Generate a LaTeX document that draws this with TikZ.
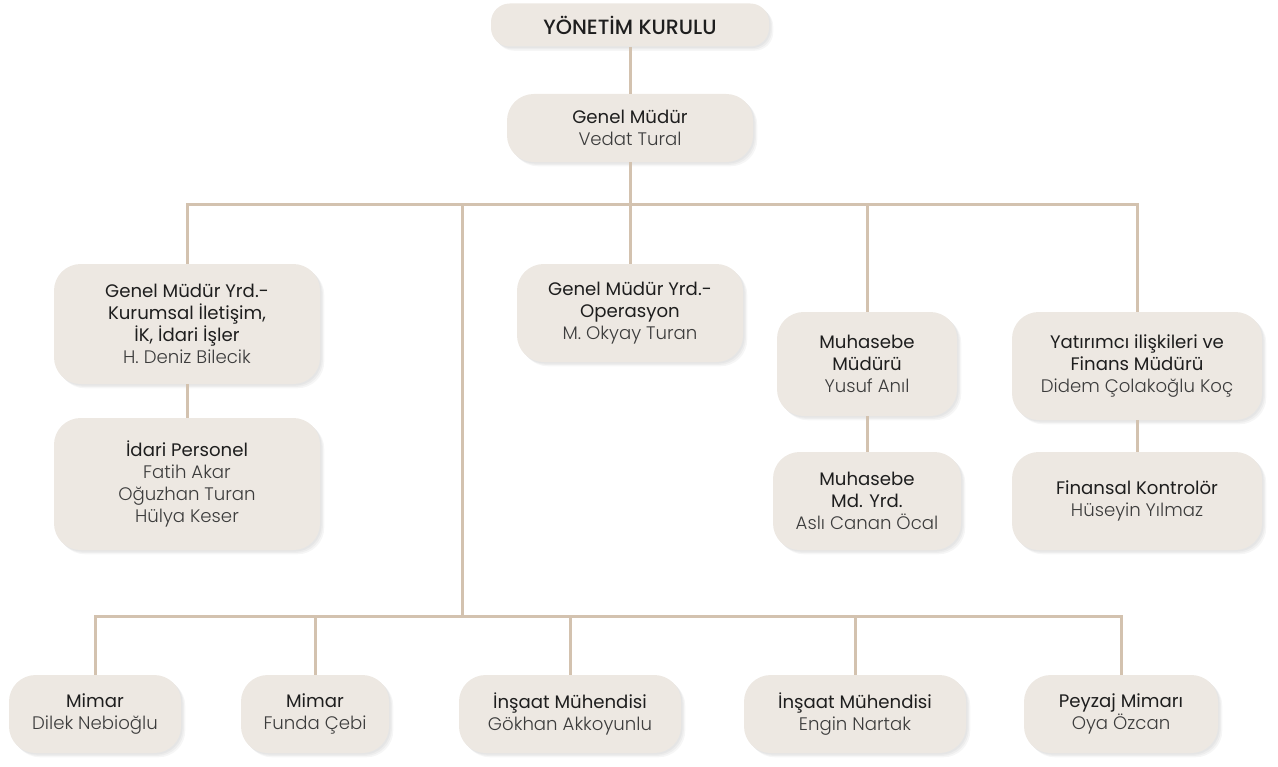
\documentclass[tikz,border=0pt]{standalone}
\usepackage{fontspec}
\setmainfont{Poppins}
\newfontfamily\lightf{Poppins Light}
\newfontfamily\medf{Poppins Medium}
\definecolor{boxfill}{HTML}{EDE8E2}
\definecolor{linec}{HTML}{D3C2AF}
\definecolor{titc}{HTML}{1E1E1E}
\definecolor{namec}{HTML}{3C3C3C}
\tikzset{
  card/.style={fill=boxfill, rounded corners=20pt, align=center, inner sep=0pt, text=titc,
    font=\fontsize{13.6}{16.6}\selectfont,
    preaction={fill=black, opacity=0.035, transform canvas={shift={(1.2pt,-1.2pt)}}},
    preaction={fill=black, opacity=0.035, transform canvas={shift={(2.2pt,-2.2pt)}}},
    preaction={fill=black, opacity=0.035, transform canvas={shift={(3.2pt,-3.2pt)}}}},
  sz/.style 2 args={minimum width=#1*0.75pt, minimum height=#2*0.75pt},
  link/.style={draw=linec, line width=2.25pt},
}
\newcommand{\nm}[1]{{\lightf\color{namec}#1}}
\begin{document}
\begin{tikzpicture}[x=0.75pt,y=-0.75pt]
\useasboundingbox (0,0) rectangle (1278,767);
% nodes
\node[card, sz={278}{43}, rounded corners=14pt, font=\fontsize{15.5}{18}\selectfont] (yk) at (630,25) {\medf YÖNETİM KURULU};
\node[card, sz={246}{68}] (gm) at (630,128) {Genel Müdür\\\nm{Vedat Tural}};
\node[card, sz={266}{120}] (k1) at (187,324) {Genel Müdür Yrd.-\\Kurumsal İletişim,\\İK, İdari İşler\\\nm{H. Deniz Bilecik}};
\node[card, sz={226}{98}] (op) at (630,313) {Genel Müdür Yrd.-\\Operasyon\\\nm{M. Okyay Turan}};
\node[card, sz={180}{104}] (mm) at (867,364) {Muhasebe\\Müdürü\\\nm{Yusuf Anıl}};
\node[card, sz={250}{108}] (yf) at (1137,366) {Yatırımcı ilişkileri ve\\Finans Müdürü\\\nm{Didem Çolakoğlu Koç}};
\node[card, sz={266}{132}] (ip) at (187,484) {İdari Personel\\\nm{Fatih Akar}\\\nm{Oğuzhan Turan}\\\nm{Hülya Keser}};
\node[card, sz={188}{98}] (my) at (867,501) {Muhasebe\\Md. Yrd.\\\nm{Aslı Canan Öcal}};
\node[card, sz={250}{98}] (fk) at (1137,501) {Finansal Kontrolör\\\nm{Hüseyin Yılmaz}};
\node[card, sz={172}{78}] (m1) at (95,714) {Mimar\\\nm{Dilek Nebioğlu}};
\node[card, sz={148}{78}] (m2) at (315,714) {Mimar\\\nm{Funda Çebi}};
\node[card, sz={222}{78}] (i1) at (570,714) {İnşaat Mühendisi\\\nm{Gökhan Akkoyunlu}};
\node[card, sz={222}{78}] (i2) at (855,714) {İnşaat Mühendisi\\\nm{Engin Nartak}};
\node[card, sz={194}{78}] (pz) at (1121,714) {Peyzaj Mimarı\\\nm{Oya Özcan}};
% bus coordinates
\coordinate (b1) at (630,204);
\coordinate (j1) at (462,204);
\coordinate (b2) at (462,616);
% connectors
\draw[link] (yk.south) -- (gm.north);
\draw[link] (gm.south) -- (b1);
\draw[link] (k1.north) -- (k1.north |- b1) -- (yf.north |- b1) -- (yf.north);
\draw[link] (b1) -- (op.north);
\draw[link] (mm.north |- b1) -- (mm.north);
\draw[link] (k1.south) -- (ip.north);
\draw[link] (mm.south) -- (my.north);
\draw[link] (yf.south) -- (fk.north);
\draw[link] (j1) -- (b2);
\draw[link] (m1.north) -- (m1.north |- b2) -- (pz.north |- b2) -- (pz.north);
\draw[link] (m2.north |- b2) -- (m2.north);
\draw[link] (i1.north |- b2) -- (i1.north);
\draw[link] (i2.north |- b2) -- (i2.north);
\end{tikzpicture}
\end{document}
